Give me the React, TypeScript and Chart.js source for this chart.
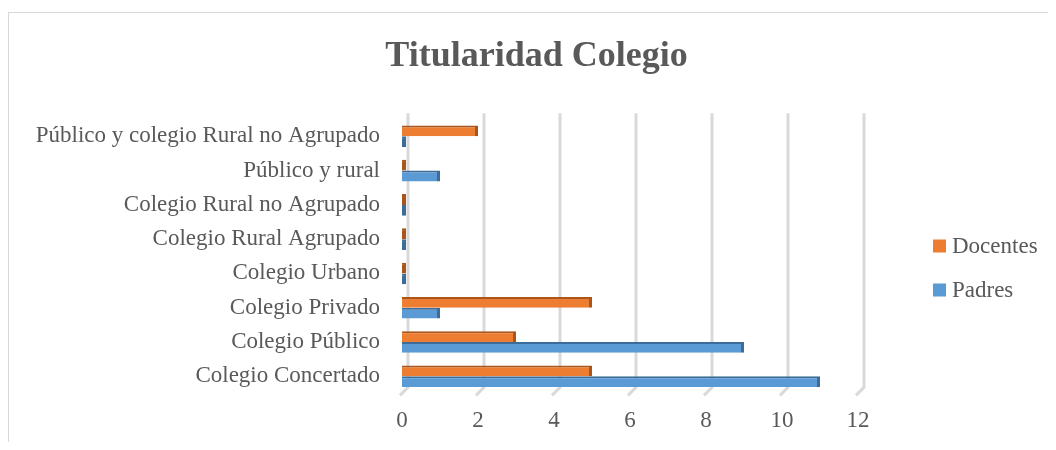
import React, { useEffect, useRef } from "react";
import { Chart, registerables } from "chart.js";

Chart.register(...registerables);

const categories = [
  "Público y colegio Rural no Agrupado",
  "Público y rural",
  "Colegio Rural no Agrupado",
  "Colegio Rural Agrupado",
  "Colegio Urbano",
  "Colegio Privado",
  "Colegio Público",
  "Colegio Concertado",
];
const docentes = [2, 0, 0, 0, 0, 5, 3, 5];
const padres = [0, 1, 0, 0, 0, 1, 9, 11];
const xTicks = [0, 2, 4, 6, 8, 10, 12];

const FONT = "'Liberation Serif', 'Times New Roman', serif";
const TEXT = "#595959";
const ORANGE = "#ED7D31";
const ORANGE_DARK = "#A9551C";
const BLUE = "#5B9BD5";
const BLUE_DARK = "#3D6C98";
const GRID = "#D9D9D9";

// 3D-like back-wall gridlines (offset) with slanted floor feet
const gridPlugin = {
  id: "wallGrid",
  beforeDatasetsDraw(chart: any) {
    const ctx = chart.ctx;
    const xs = chart.scales.x;
    const { top, bottom } = chart.chartArea;
    ctx.save();
    ctx.strokeStyle = GRID;
    ctx.lineWidth = 3;
    ctx.lineCap = "butt";
    xs.ticks.forEach((t: any) => {
      const px = xs.getPixelForValue(t.value);
      ctx.beginPath();
      ctx.moveTo(px + 6, top - 6);
      ctx.lineTo(px + 6, bottom - 6);
      ctx.lineTo(px - 2, bottom + 2);
      ctx.stroke();
    });
    ctx.restore();
  },
};

const legendPlugin = {
  id: "sideLegend",
  afterDraw(chart: any) {
    const ctx = chart.ctx;
    const x = 924;
    const centers = [233, 277];
    const colors = [ORANGE, BLUE];
    ctx.save();
    ctx.font = `23px ${FONT}`;
    ctx.textBaseline = "middle";
    ctx.textAlign = "left";
    chart.data.datasets.forEach((ds: any, i: number) => {
      const cy = centers[i];
      ctx.fillStyle = colors[i];
      ctx.fillRect(x, cy - 6.5, 13, 13);
      ctx.fillStyle = TEXT;
      ctx.fillText(ds.label, x + 19, cy + 1);
    });
    ctx.restore();
  },
};

export default function App() {
  const ref = useRef<HTMLCanvasElement>(null);
  useEffect(() => {
    if (!ref.current) return;
    const barCommon = {
      borderWidth: { top: 2, right: 3, bottom: 0, left: 0 },
      borderSkipped: false,
      minBarLength: 4,
      categoryPercentage: 0.63,
      barPercentage: 1,
    };
    const chart = new Chart(ref.current, {
      type: "bar",
      data: {
        labels: categories,
        datasets: [
          {
            label: "Docentes",
            data: docentes,
            backgroundColor: (c: any) => (c.raw === 0 ? ORANGE_DARK : ORANGE),
            borderColor: ORANGE_DARK,
            ...barCommon,
          },
          {
            label: "Padres",
            data: padres,
            backgroundColor: (c: any) => (c.raw === 0 ? BLUE_DARK : BLUE),
            borderColor: BLUE_DARK,
            ...barCommon,
          },
        ],
      },
      options: {
        indexAxis: "y",
        animation: false,
        responsive: false,
        maintainAspectRatio: false,
        layout: { padding: { left: 8, right: 0, top: 0, bottom: -7 } },
        plugins: {
          legend: { display: false },
          tooltip: { enabled: false },
          title: {
            display: true,
            text: "Titularidad Colegio",
            color: TEXT,
            font: { family: FONT, size: 36, weight: "bold" },
            padding: { top: 22, bottom: 41 },
          },
        },
        scales: {
          x: {
            min: 0,
            max: 12,
            afterBuildTicks: (scale: any) => {
              scale.ticks = xTicks.map((v) => ({ value: v }));
            },
            grid: { display: false, drawTicks: false },
            border: { display: false },
            ticks: {
              color: TEXT,
              font: { family: FONT, size: 23 },
              padding: 14,
            },
          },
          y: {
            grid: { display: false, drawTicks: false },
            border: { display: false },
            afterFit: (scale: any) => {
              scale.width = 385;
            },
            ticks: {
              color: TEXT,
              font: { family: FONT, size: 23 },
              padding: 22,
              autoSkip: false,
            },
          },
          yRight: {
            type: "category",
            axis: "y",
            position: "right",
            display: true,
            grid: { display: false, drawTicks: false },
            border: { display: false },
            ticks: { display: false },
            afterFit: (scale: any) => {
              scale.width = 198;
            },
          },
        },
      },
      plugins: [gridPlugin, legendPlugin],
    } as any);
    return () => chart.destroy();
  }, []);

  return (
    <div
      style={{
        marginTop: 4,
        width: 1047,
        height: 429,
        borderLeft: "1px solid #D9D9D9",
        borderTop: "1px solid #D9D9D9",
        background: "#fff",
      }}
    >
      <canvas ref={ref} width={1047} height={429} style={{ display: "block" }} />
    </div>
  );
}
